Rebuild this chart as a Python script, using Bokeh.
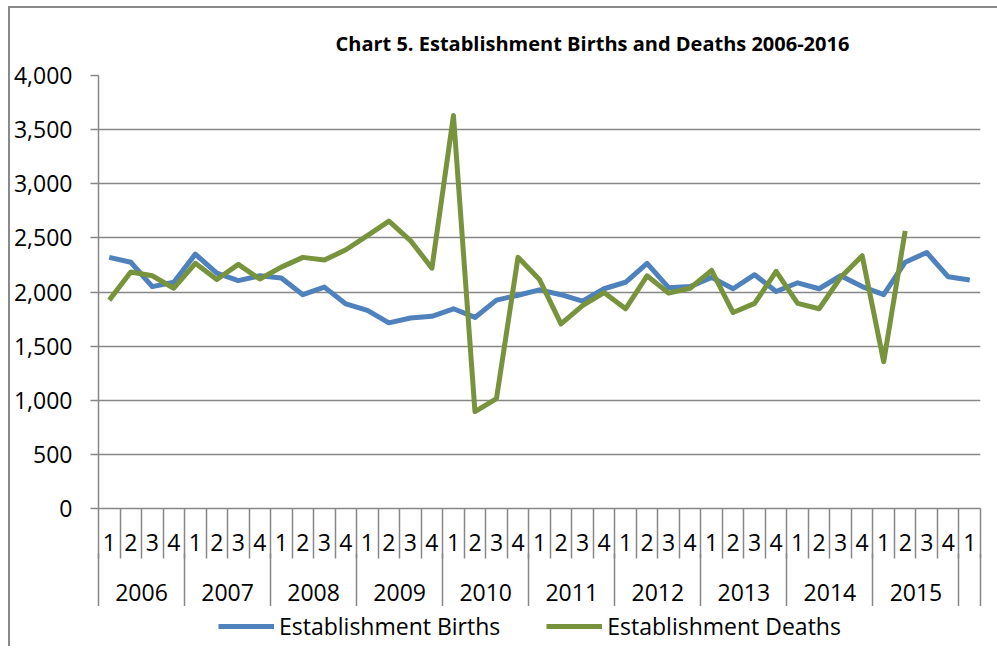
from bokeh.plotting import figure
from bokeh.layouts import column
from bokeh.models import (Range1d, FixedTicker, LinearAxis, Legend, LegendItem,
                          NumeralTickFormatter)
from bokeh.embed import file_html
from bokeh.resources import INLINE

# ---- data -------------------------------------------------------------
title_text = "Chart 5. Establishment Births and Deaths 2006-2016"
series_names = ["Establishment Births", "Establishment Deaths"]
quarter_labels = ["1", "2", "3", "4"] * 10 + ["1"]
year_labels = ["2006", "2007", "2008", "2009", "2010",
               "2011", "2012", "2013", "2014", "2015"]
births = [2320, 2275, 2050, 2090, 2350, 2175, 2105, 2150, 2130, 1975,
          2045, 1890, 1830, 1715, 1760, 1775, 1845, 1765, 1925, 1970,
          2020, 1975, 1915, 2030, 2090, 2265, 2040, 2050, 2135, 2030,
          2160, 2005, 2085, 2030, 2150, 2050, 1975, 2275, 2365, 2140, 2110]
deaths = [1925, 2185, 2150, 2035, 2265, 2115, 2255, 2120, 2230, 2320,
          2295, 2390, 2520, 2655, 2475, 2220, 3630, 895, 1015, 2320,
          2115, 1705, 1875, 1995, 1845, 2150, 1990, 2035, 2200, 1810,
          1895, 2190, 1895, 1845, 2135, 2335, 1355, 2565]
y_ticks = [0, 500, 1000, 1500, 2000, 2500, 3000, 3500, 4000]

# ---- derived category positions ---------------------------------------
n = len(quarter_labels)
x_centers = [i + 0.5 for i in range(n)]
q_bounds = list(range(n + 1))
year_centers = [4 * k + 2 for k in range(len(year_labels))]
year_bounds = [4 * k for k in range(len(year_labels) + 1)] + [n]

GRAY = "#878787"
FONT = "Open Sans"
BLUE = "#4F81BD"
GREEN = "#77933C"
COLORS = [BLUE, GREEN]
SERIES = [births, deaths]

p = figure(width=987, height=598, output_backend="svg", toolbar_location=None,
           x_range=Range1d(0, n), y_range=Range1d(0, 4000),
           min_border_left=88, min_border_right=17, min_border_top=67,
           min_border_bottom=98)

p.title.text = title_text
p.title.text_font = FONT
p.title.text_font_style = "bold"
p.title.text_font_size = "20px"
p.title.align = "left"
p.title.offset = 237
p.title.standoff = 37
p.title.text_color = "#000000"

p.outline_line_color = None
p.xgrid.grid_line_color = None
p.ygrid.ticker = FixedTicker(ticks=y_ticks)
p.ygrid.grid_line_color = GRAY
p.ygrid.grid_line_width = 1.5

# y axis
ya = p.yaxis[0]
ya.ticker = FixedTicker(ticks=y_ticks)
ya.formatter = NumeralTickFormatter(format="0,0")
ya.axis_line_color = GRAY
ya.axis_line_width = 1.5
ya.major_tick_line_color = GRAY
ya.major_tick_line_width = 1.5
ya.major_tick_out = 8
ya.major_tick_in = 0
ya.minor_tick_line_color = None
ya.major_label_standoff = 18
ya.major_label_text_font = FONT
ya.major_label_text_font_size = "23px"
ya.major_label_text_color = "#000000"

# quarter axis
xq = p.xaxis[0]
xq.ticker = FixedTicker(ticks=x_centers, minor_ticks=q_bounds)
xq.major_label_overrides = {x: lab for x, lab in zip(x_centers, quarter_labels)}
xq.axis_line_color = GRAY
xq.axis_line_width = 1.5
xq.major_tick_line_color = None
xq.major_tick_out = 0
xq.major_tick_in = 0
xq.minor_tick_line_color = GRAY
xq.minor_tick_line_width = 1.5
xq.minor_tick_out = 50
xq.minor_tick_in = 0
xq.major_label_standoff = -25
xq.major_label_text_font = FONT
xq.major_label_text_font_size = "23px"
xq.major_label_text_color = "#000000"

# year axis
xy = LinearAxis(ticker=FixedTicker(ticks=year_centers, minor_ticks=year_bounds))
xy.major_label_overrides = {x: lab for x, lab in zip(year_centers, year_labels)}
xy.axis_line_color = None
xy.major_tick_line_color = None
xy.major_tick_out = 0
xy.major_tick_in = 0
xy.minor_tick_line_color = GRAY
xy.minor_tick_line_width = 1.5
xy.minor_tick_out = 57
xy.minor_tick_in = 0
xy.major_label_standoff = -27
xy.major_label_text_font = FONT
xy.major_label_text_font_size = "23px"
xy.major_label_text_color = "#000000"
p.add_layout(xy, "below")

for vals, col in zip(SERIES, COLORS):
    p.line(x_centers[:len(vals)], vals, line_color=col, line_width=5,
           line_join="round")

# ---- legend strip below the chart (series drawn out of view) -----------
pl = figure(width=987, height=40, output_backend="svg", toolbar_location=None,
            x_axis_location=None, y_axis_location=None,
            x_range=Range1d(0, n), y_range=Range1d(5000, 6000),
            min_border_left=0, min_border_right=0, min_border_top=0,
            min_border_bottom=0)
pl.outline_line_color = None
pl.grid.grid_line_color = None
items = []
for name, vals, col in zip(series_names, SERIES, COLORS):
    r = pl.line(x_centers[:len(vals)], vals, line_color=col, line_width=5)
    items.append(LegendItem(label=name, renderers=[r]))
legend = Legend(items=items, orientation="horizontal", location="center_left")
legend.label_text_font = FONT
legend.label_text_font_size = "23px"
legend.label_text_color = "#000000"
legend.glyph_width = 56
legend.glyph_height = 20
legend.label_standoff = 5
legend.spacing = 46
legend.padding = 0
legend.margin = 120
legend.border_line_color = None
legend.background_fill_color = None
pl.add_layout(legend, "center")

layout = column(p, pl, spacing=0)
layout.margin = (6, 0, 0, 8)
layout.styles = {"border-left": "2px solid #8a8a8a", "border-top": "2px solid #8a8a8a"}

open("out.html", "w").write(file_html(layout, INLINE))
